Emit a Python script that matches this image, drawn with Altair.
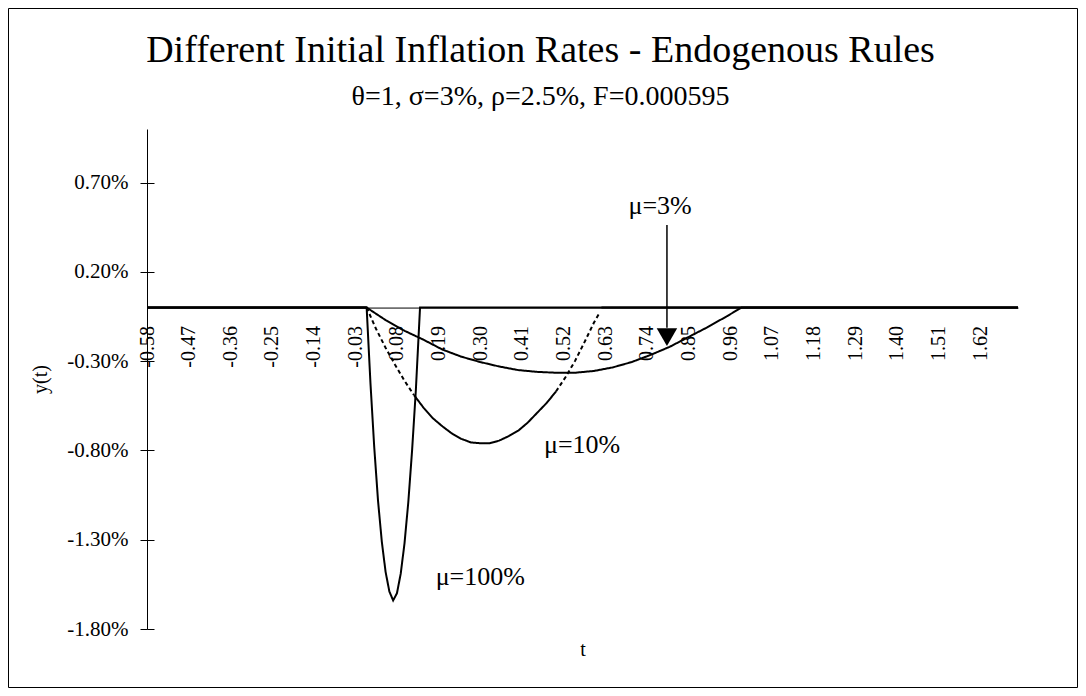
import altair as alt
import pandas as pd

FONT = "Liberation Serif"

# ---------------- data (t, y in %) ----------------
x_ticks = [-0.58, -0.47, -0.36, -0.25, -0.14, -0.03, 0.08, 0.19, 0.30, 0.41, 0.52,
           0.63, 0.74, 0.85, 0.96, 1.07, 1.18, 1.29, 1.40, 1.51, 1.62]
y_ticks = [-1.8, -1.3, -0.8, -0.3, 0.2, 0.7]

mu3_t = [-0.58, 0.0, 0.05, 0.10, 0.15, 0.20, 0.25, 0.30, 0.35, 0.40, 0.45, 0.50, 0.55,
         0.60, 0.65, 0.70, 0.75, 0.80, 0.85, 0.90, 0.95, 0.99, 1.72]
mu3_y = [0.0, 0.0, -0.07, -0.13, -0.18, -0.235, -0.275, -0.305, -0.33, -0.35, -0.36, -0.365,
         -0.365, -0.355, -0.335, -0.305, -0.265, -0.22, -0.165, -0.11, -0.05, 0.0, 0.0]

mu100_t = [-0.58, 0.0, 0.01, 0.02, 0.03, 0.04, 0.05, 0.06, 0.07, 0.08, 0.09, 0.10, 0.11,
           0.12, 0.13, 0.141, 1.72]
mu100_y = [0.0, 0.0, -0.42, -0.78, -1.08, -1.31, -1.48, -1.59, -1.64, -1.60, -1.49, -1.32,
           -1.09, -0.80, -0.46, 0.0, 0.0]

mu10_pre_t = [-0.58, 0.0]
mu10_pre_y = [0.0, 0.0]
mu10_dash_a_t = [0.0, 0.025, 0.05, 0.075, 0.10, 0.125]
mu10_dash_a_y = [0.0, -0.12, -0.225, -0.32, -0.41, -0.49]
mu10_solid_t = [0.125, 0.15, 0.175, 0.20, 0.225, 0.25, 0.275, 0.30, 0.325, 0.35, 0.375,
                0.40, 0.425, 0.45, 0.475, 0.50]
mu10_solid_y = [-0.49, -0.56, -0.62, -0.665, -0.705, -0.735, -0.755, -0.76, -0.76, -0.745,
                -0.72, -0.69, -0.645, -0.59, -0.535, -0.47]
mu10_dash_b_t = [0.50, 0.525, 0.55, 0.575, 0.60, 0.615]
mu10_dash_b_y = [-0.47, -0.39, -0.30, -0.195, -0.085, -0.03]
mu10_post_t = [0.62, 1.72]
mu10_post_y = [0.0, 0.0]

label_text = ["\u03bc=3%", "\u03bc=10%", "\u03bc=100%"]
label_t = [0.775, 0.569, 0.30]
label_y = [0.57, -0.767, -1.506]

arrow_t = [0.793]
arrow_top = [0.463]
arrow_base = [-0.113]
arrow_head = [-0.166]

# ---------------- tables ----------------
rows = []
def add(seg, style, ts, ys):
    for t, y in zip(ts, ys):
        rows.append({"t": t, "y": y, "seg": seg, "style": style})

add("mu3", "solid", mu3_t, mu3_y)
add("mu100", "solid", mu100_t, mu100_y)
add("mu10_pre", "solid", mu10_pre_t, mu10_pre_y)
add("mu10_a", "dash", mu10_dash_a_t, mu10_dash_a_y)
add("mu10_s", "solid", mu10_solid_t, mu10_solid_y)
add("mu10_b", "dash", mu10_dash_b_t, mu10_dash_b_y)
add("mu10_post", "solid", mu10_post_t, mu10_post_y)
lines_df = pd.DataFrame(rows)

labels_df = pd.DataFrame({"t": label_t, "y": label_y, "text": label_text})
arrow_df = pd.DataFrame({"t": arrow_t, "top": arrow_top, "base": arrow_base, "head": arrow_head})

# ---------------- layout ----------------
W, H = 871, 500
PAD_L, PAD_T = 139, 121
TOTAL_W, TOTAL_H = 1070, 680
Y_MIN, Y_MAX = -1.8, 1.0
T_MIN, T_MAX = -0.58, 1.72
zero_offset = -H * (0 - Y_MIN) / (Y_MAX - Y_MIN)

xscale = alt.Scale(domain=[T_MIN, T_MAX], nice=False, zero=False)
yscale = alt.Scale(domain=[Y_MIN, Y_MAX], nice=False, zero=False)

x_axis = alt.Axis(values=x_ticks, labelAngle=270, labelFont=FONT, labelFontSize=20,
                  labelColor="black", labelPadding=18, ticks=False, domainColor="black",
                  domainWidth=1, grid=False, title=None, offset=zero_offset, orient="bottom",
                  labelExpr="replace(format(datum.value, '.2f'), '\u2212', '-')",
                  labelOverlap=False, labelBound=False, labelFlush=False)
y_axis = alt.Axis(values=y_ticks, labelFont=FONT, labelFontSize=21, labelColor="black",
                  tickColor="black", tickSize=7, labelPadding=12, domainColor="black",
                  grid=False, title="y(t)", titleFont=FONT, titleFontSize=20,
                  titleFontWeight="normal", titleColor="black", titlePadding=16,
                  orient="left",
                  labelExpr="replace(format(datum.value, '.2f'), '\u2212', '-') + '%'")
# inner half of the crossing tick marks
y_axis_inner = alt.Axis(values=y_ticks, labels=False, domain=False, grid=False, title=None,
                        tickColor="black", tickSize=7, offset=-7, orient="left")

frame = alt.Chart(arrow_df).mark_rect(fillOpacity=0, stroke="black", strokeWidth=1).encode(
    x=alt.value(-PAD_L + 0.5), x2=alt.value(TOTAL_W - PAD_L - 0.5),
    y=alt.value(-PAD_T + 0.5), y2=alt.value(TOTAL_H - PAD_T - 0.5))

lines = alt.Chart(lines_df).mark_line(color="black", strokeWidth=2).encode(
    x=alt.X("t:Q", scale=xscale, axis=x_axis),
    y=alt.Y("y:Q", scale=yscale, axis=y_axis),
    detail="seg:N",
    strokeDash=alt.StrokeDash("style:N", scale=alt.Scale(domain=["solid", "dash"],
                                                         range=[[1, 0], [4, 3]]), legend=None),
)

arrow_line = alt.Chart(arrow_df).mark_rule(color="black", strokeWidth=1.5).encode(
    x=alt.X("t:Q", scale=xscale,
            axis=alt.Axis(title="t", titleFont=FONT, titleFontSize=20, titleFontWeight="normal",
                          titleColor="black", labels=False, ticks=False, domain=False,
                          grid=False, orient="bottom", titlePadding=10)),
    y=alt.Y("top:Q", scale=yscale, axis=None),
    y2="base:Q")

arrow_head_mark = alt.Chart(arrow_df).mark_point(shape="triangle-down", filled=True,
                                                 color="black", size=420, opacity=1).encode(
    x=alt.X("t:Q", scale=xscale, axis=None),
    y=alt.Y("head:Q", scale=yscale, axis=y_axis_inner))

texts = alt.Chart(labels_df).mark_text(font=FONT, fontSize=26, color="black",
                                       align="center", baseline="middle").encode(
    x=alt.X("t:Q", scale=xscale, axis=None), y=alt.Y("y:Q", scale=yscale, axis=None),
    text="text:N")

chart = alt.layer(lines, arrow_line, arrow_head_mark, texts, frame).resolve_axis(
    x="independent", y="independent"
).properties(
    width=W, height=H,
    background="white",
    title=alt.TitleParams(
        text="Different Initial Inflation Rates - Endogenous Rules",
        subtitle="\u03b8=1, \u03c3=3%, \u03c1=2.5%, F=0.000595",
        font=FONT, fontSize=38, fontWeight="normal", color="black",
        subtitleFont=FONT, subtitleFontSize=28, subtitleColor="black",
        anchor="middle", dx=-42, offset=-103, subtitlePadding=13),
    autosize=alt.AutoSizeParams(type="none"),
    padding={"left": PAD_L, "top": PAD_T, "right": TOTAL_W - PAD_L - W,
             "bottom": TOTAL_H - PAD_T - H},
).configure_view(strokeWidth=0)

chart.save("out.html", embed_options={"renderer": "svg", "actions": False})
